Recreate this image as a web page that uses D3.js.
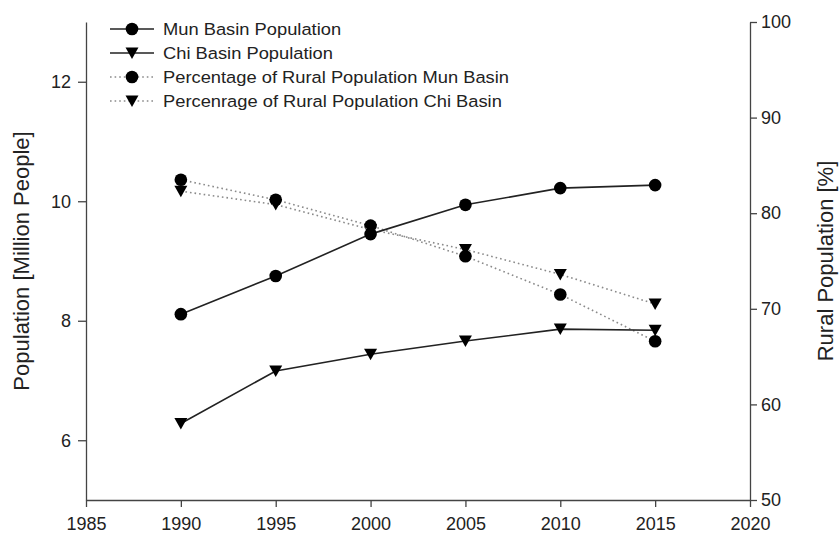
<!DOCTYPE html>
<html>
<head>
<meta charset="utf-8">
<script src="https://cdn.jsdelivr.net/npm/d3@7"></script>
<style>
  body { margin: 0; background: #fff; }
  text { font-family: Arial, "Liberation Sans", sans-serif; fill: #222; }
</style>
</head>
<body>
<script>
const years = [1990, 1995, 2000, 2005, 2010, 2015];
const munPopulation = [8.11, 8.75, 9.45, 9.94, 10.22, 10.27];
const chiPopulation = [6.28, 7.16, 7.44, 7.66, 7.86, 7.84];
const munRural = [83.5, 81.4, 78.7, 75.5, 71.5, 66.6];
const chiRural = [82.3, 80.9, 78.3, 76.2, 73.6, 70.5];

const xTicks = [1985, 1990, 1995, 2000, 2005, 2010, 2015, 2020];
const leftTicks = [6, 8, 10, 12];
const rightTicks = [50, 60, 70, 80, 90, 100];

const width = 840;
const height = 534;
const margin = {top: 22, right: 90, bottom: 34, left: 86};

let svg = d3.select("body")
	.append("svg")
		.attr("width", width)
		.attr("height", height)

let x = d3.scaleLinear()
	.domain([1985, 2020])
	.range([margin.left, width - margin.right])

let yLeft = d3.scaleLinear()
	.domain([5, 13])
	.range([height - margin.bottom, margin.top])

let yRight = d3.scaleLinear()
	.domain([50, 100])
	.range([height - margin.bottom, margin.top])

function styleAxis(g) {
	g.selectAll("path, line").attr("stroke", "#444").attr("stroke-width", 1.3)
	g.selectAll("text").style("font-size", "18px").attr("fill", "#222")
}

// AXES
svg.append("g")
	.attr("transform", `translate(0,${height - margin.bottom})`)
	.call(d3.axisBottom(x).tickValues(xTicks).tickFormat(d3.format("d")).tickSize(7).tickSizeOuter(0).tickPadding(10))
	.call(styleAxis)

svg.append("g")
	.attr("transform", `translate(${margin.left},0)`)
	.call(d3.axisLeft(yLeft).tickValues(leftTicks).tickSize(8).tickSizeOuter(0).tickPadding(7))
	.call(styleAxis)

svg.append("g")
	.attr("transform", `translate(${width - margin.right},0)`)
	.call(d3.axisRight(yRight).tickValues(rightTicks).tickSize(7).tickSizeOuter(0).tickPadding(4))
	.call(styleAxis)

// AXIS TITLES
svg.append("text")
	.attr("transform", `translate(29,${(margin.top + height - margin.bottom) / 2}) rotate(-90)`)
	.attr("text-anchor", "middle")
	.style("font-size", "22px")
	.text("Population [Million People]")

svg.append("text")
	.attr("transform", `translate(833,${(margin.top + height - margin.bottom) / 2}) rotate(-90)`)
	.attr("text-anchor", "middle")
	.style("font-size", "22px")
	.text("Rural Population [%]")

// SERIES
const series = [
	{name: "Mun Basin Population", values: munPopulation, y: yLeft, symbol: d3.symbolCircle, dotted: false},
	{name: "Chi Basin Population", values: chiPopulation, y: yLeft, symbol: "down", dotted: false},
	{name: "Percentage of Rural Population Mun Basin", values: munRural, y: yRight, symbol: d3.symbolCircle, dotted: true},
	{name: "Percenrage of Rural Population Chi Basin", values: chiRural, y: yRight, symbol: "down", dotted: true}
];

function markerPath(sym) {
	if (sym === "down") return "M-6.5,-5.5L6.5,-5.5L0,6Z";
	return d3.symbol().type(sym).size(125)();
}

function styleLine(sel, dotted) {
	sel.attr("fill", "none")
		.attr("stroke", dotted ? "#8a8a8a" : "#222")
		.attr("stroke-width", 1.6)
		.attr("stroke-dasharray", dotted ? "1.6,3" : null)
}

// dotted series first, then solid ones on top
[2, 3, 0, 1].forEach(i => {
	let s = series[i];
	let line = d3.line()
		.x((d, j) => x(years[j]))
		.y(d => s.y(d))
	svg.append("path")
		.datum(s.values)
		.attr("d", line)
		.call(styleLine, s.dotted)
	svg.append("g")
		.selectAll("path")
		.data(s.values)
		.enter()
		.append("path")
			.attr("transform", (d, j) => `translate(${x(years[j])},${s.y(d)})`)
			.attr("d", markerPath(s.symbol))
			.attr("fill", "#000")
})

// LEGEND
let legend = svg.append("g")
	.attr("transform", "translate(110,29)")

series.forEach((s, i) => {
	let row = legend.append("g").attr("transform", `translate(0,${i * 24})`)
	row.append("line")
		.attr("x1", 0).attr("x2", 44)
		.call(styleLine, s.dotted)
	row.append("path")
		.attr("transform", "translate(22,0)")
		.attr("d", markerPath(s.symbol))
		.attr("fill", "#000")
	// reference text is a little wider than plain Arial
	row.append("text")
		.attr("transform", "translate(53,0) scale(1.11,1)")
		.attr("dy", "0.35em")
		.style("font-size", "16.5px")
		.text(s.name)
})
</script>
</body>
</html>
